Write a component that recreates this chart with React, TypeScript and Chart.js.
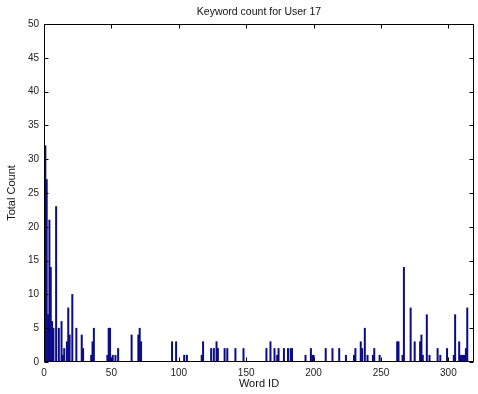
import React, { useEffect, useRef } from 'react';
import { Chart, registerables } from 'chart.js';

Chart.register(...registerables);

const chartTitle = 'Keyword count for User 17';
const xTitle = 'Word ID';
const yTitle = 'Total Count';

const wordIds = [
  1, 2, 3, 4, 5, 6, 7, 9, 11, 13, 14, 15, 17, 18, 19, 21, 24, 28, 29,
  35, 36, 37, 47, 48, 49, 51, 53, 55, 65, 70, 71, 72, 95, 98, 104, 106,
  117, 118, 124, 126, 128, 129, 134, 136, 142, 148, 165, 168, 171, 173,
  174, 178, 181, 183, 184, 194, 198, 199, 200, 209, 214, 219, 224, 230,
  231, 235, 236, 238, 240, 244, 245, 249, 262, 263, 266, 267, 272, 275,
  279, 280, 281, 284, 286, 292, 294, 299, 304, 305, 308, 309, 310, 311,
  312, 313, 314,
];
const counts = [
  32, 27, 7, 21, 14, 6, 5, 23, 5, 6, 1, 2, 3, 8, 4, 10, 5, 4, 2,
  1, 3, 5, 1, 5, 5, 1, 1, 2, 4, 4, 5, 3, 3, 3, 1, 1,
  1, 3, 2, 2, 3, 2, 2, 2, 2, 2, 2, 3, 2, 1,
  2, 2, 2, 2, 2, 1, 2, 1, 1, 2, 2, 2, 1, 1,
  2, 3, 2, 5, 1, 1, 2, 1, 3, 3, 1, 14, 8, 3,
  3, 4, 1, 7, 1, 2, 1, 2, 1, 7, 3, 1, 1, 1,
  1, 2, 8,
];

const xTicks = [0, 50, 100, 150, 200, 250, 300];
const yTicks = [0, 5, 10, 15, 20, 25, 30, 35, 40, 45, 50];
const xMin = 0;
const xMax = 319;
const yMin = 0;
const yMax = 50;

const FONT = "'Liberation Sans', Arial, Helvetica, sans-serif";

export default function App() {
  const ref = useRef<HTMLCanvasElement>(null);

  useEffect(() => {
    if (!ref.current) return;
    const boxPlugin = {
      id: 'matlabBox',
      afterDraw(chart: any) {
        const { ctx, chartArea: a, scales } = chart;
        const L = Math.round(a.left) + 0.5;
        const R = Math.round(a.right) - 0.5;
        const T = Math.round(a.top) + 0.5;
        const B = Math.round(a.bottom) - 0.5;
        ctx.save();
        ctx.strokeStyle = '#000';
        ctx.lineWidth = 1;
        ctx.beginPath();
        ctx.rect(L, T, R - L, B - T);
        const tl = 4;
        for (const v of yTicks) {
          const y = Math.round(scales.y.getPixelForValue(v)) + 0.5;
          ctx.moveTo(L, y); ctx.lineTo(L + tl, y);
          ctx.moveTo(R, y); ctx.lineTo(R - tl, y);
        }
        for (const v of xTicks) {
          const x = Math.round(scales.x.getPixelForValue(v)) + 0.5;
          ctx.moveTo(x, B); ctx.lineTo(x, B - tl);
          ctx.moveTo(x, T); ctx.lineTo(x, T + tl);
        }
        ctx.stroke();
        // title centred over the plot area
        ctx.fillStyle = '#111';
        ctx.font = `normal 10.5px ${FONT}`;
        ctx.textAlign = 'center';
        ctx.textBaseline = 'middle';
        ctx.fillText(chartTitle, (a.left + a.right) / 2, 12);
        ctx.restore();
      },
    };

    const chart = new Chart(ref.current, {
      type: 'bar',
      data: {
        datasets: [
          {
            data: wordIds.map((x, i) => ({ x, y: counts[i] })),
            backgroundColor: '#0c0c86',
            borderWidth: 0,
            barPercentage: 1,
            categoryPercentage: 1,
          },
        ],
      },
      options: {
        animation: false,
        responsive: false,
        layout: { padding: { top: 24, right: 4, left: 0, bottom: 0 } },
        plugins: {
          legend: { display: false },
          tooltip: { enabled: false },
          title: { display: false },
        },
        scales: {
          x: {
            type: 'linear',
            min: xMin,
            max: xMax,
            offset: false,
            grid: { display: false, drawTicks: false, offset: false },
            border: { display: false },
            afterBuildTicks: (s: any) => {
              s.ticks = xTicks.map((v) => ({ value: v }));
            },
            ticks: {
              padding: 5,
              color: '#222',
              maxRotation: 0,
              autoSkip: false,
              font: { family: FONT, size: 10 },
            },
            title: {
              display: true,
              text: xTitle,
              color: '#111',
              font: { family: FONT, size: 11 },
              padding: 3,
            },
            afterFit: (s: any) => {
              s.height = 32;
            },
          },
          y: {
            min: yMin,
            max: yMax,
            grid: { display: false, drawTicks: false },
            border: { display: false },
            afterBuildTicks: (s: any) => {
              s.ticks = yTicks.map((v) => ({ value: v }));
            },
            ticks: {
              padding: 5,
              color: '#222',
              autoSkip: false,
              font: { family: FONT, size: 10 },
            },
            title: {
              display: true,
              text: yTitle,
              color: '#111',
              font: { family: FONT, size: 11 },
              padding: 5,
            },
            afterFit: (s: any) => {
              s.width = 44;
            },
          },
        },
      },
      plugins: [boxPlugin],
    });
    return () => chart.destroy();
  }, []);

  return (
    <div style={{ position: 'absolute', left: 0, top: 0, width: 478, height: 394, background: '#fff' }}>
      <canvas ref={ref} width={478} height={394} style={{ display: 'block' }} />
    </div>
  );
}
